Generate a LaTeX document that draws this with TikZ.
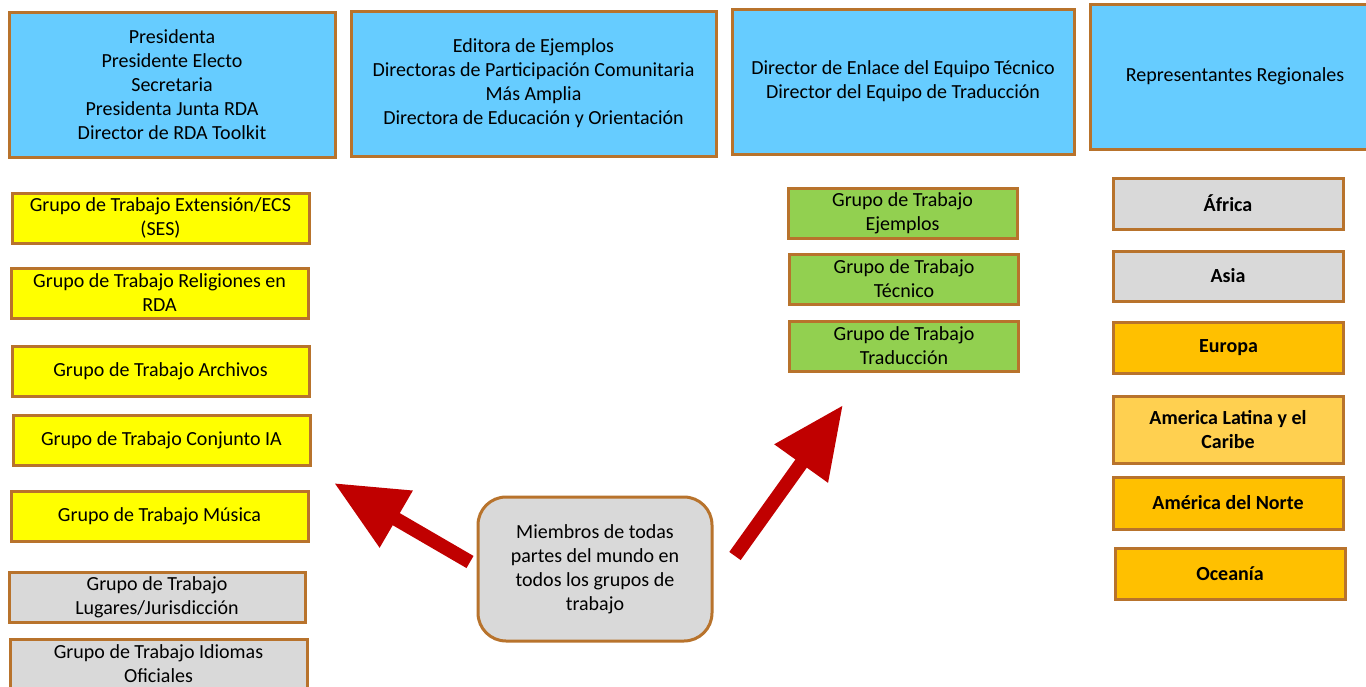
\documentclass[tikz,border=0pt]{standalone}
\usepackage{fontspec}
\setmainfont{Carlito}
\usetikzlibrary{arrows.meta}
\definecolor{cielo}{HTML}{66CCFF}
\definecolor{borde}{HTML}{B8732C}
\definecolor{amarillo}{HTML}{FFFF00}
\definecolor{verde}{HTML}{92D050}
\definecolor{gris}{HTML}{D9D9D9}
\definecolor{naranja}{HTML}{FFC000}
\definecolor{naranja_cl}{HTML}{FFD050}
\definecolor{rojo}{HTML}{C00000}
\tikzset{
	caja/.style = {rectangle, draw=borde, line width=3pt, align=center,
		inner sep=0pt, font=\fontsize{20}{24}\selectfont},
	caja_az/.style = {caja, fill=cielo, minimum height=145pt},% junta directiva
	caja_gt/.style = {caja, minimum width=297pt, minimum height=50pt},% grupo de trabajo
	caja_ve/.style = {caja, fill=verde, minimum width=229pt, minimum height=50pt},% grupo tecnico
	caja_re/.style = {caja, minimum width=230pt, minimum height=51pt,
		font=\fontsize{20}{24}\selectfont\bfseries},% representante regional
	caja_mi/.style = {caja, fill=gris, rounded corners=28pt,
		minimum width=234pt, minimum height=144pt},% miembros
	flecha/.style = {-{Triangle[length=72pt,width=62pt]}, line width=14pt, draw=rojo}
}

\begin{document}
\begin{tikzpicture}[x=1pt,y=-1pt]
	\clip (0,0) rectangle (1366,686);
	\fill[white] (0,0) rectangle (1366,686);
	% fila superior
	\node[caja_az, minimum width=326pt] (pres) at (172,84.5)
		{Presidenta\\Presidente Electo\\Secretaria\\Presidenta Junta RDA\\Director de RDA Toolkit};
	\node[caja_az, minimum width=365pt] (edit) at (533.5,83.5)
		{Editora de Ejemplos\\Directoras de Participación Comunitaria\\Más Amplia\\Directora de Educación y Orientación};
	\node[caja_az, minimum width=342pt] (enla) at (903,81.5)
		{Director de Enlace del Equipo Técnico\\Director del Equipo de Traducción};
	\node[caja_az, minimum width=290pt] (repr) at (1235,76.5)
		{Representantes Regionales};
	% grupos de trabajo
	\node[caja_gt, fill=amarillo] (ext) at (160.5,218) {Grupo de Trabajo Extensión/ECS\\(SES)};
	\node[caja_gt, fill=amarillo] (rel) at (159.5,293) {Grupo de Trabajo Religiones en\\RDA};
	\node[caja_gt, fill=amarillo] (arc) at (160.5,371) {Grupo de Trabajo Archivos};
	\node[caja_gt, fill=amarillo] (ia) at (161.5,440) {Grupo de Trabajo Conjunto IA};
	\node[caja_gt, fill=amarillo] (mus) at (159.5,516) {Grupo de Trabajo Música};
	\node[caja_gt, fill=gris, minimum width=296pt] (lug) at (157,597) {Grupo de Trabajo\\Lugares/Jurisdicción};
	\node[caja_gt, fill=gris] (idi) at (158.5,664) {Grupo de Trabajo Idiomas\\Oficiales};
	% equipos
	\node[caja_ve] (eje) at (902.5,213) {Grupo de Trabajo\\Ejemplos};
	\node[caja_ve] (tec) at (904,279) {Grupo de Trabajo\\Técnico};
	\node[caja_ve] (tra) at (904,346) {Grupo de Trabajo\\Traducción};
	% regiones
	\node[caja_re, fill=gris] (afr) at (1228,203.5) {África};
	\node[caja_re, fill=gris, minimum height=50pt] (asi) at (1228,276) {Asia};
	\node[caja_re, fill=naranja] (eur) at (1228.5,348) {Europa};
	\node[caja_re, fill=naranja_cl, minimum height=67pt] (lat) at (1228,429.5) {America Latina y el\\Caribe};
	\node[caja_re, fill=naranja, minimum height=52pt] (nor) at (1228,503) {América del Norte};
	\node[caja_re, fill=naranja] (oce) at (1230,573.5) {Oceanía};
	% miembros
	\node[caja_mi] (mie) at (595,569)
		{Miembros de todas\\partes del mundo en\\todos los grupos de\\trabajo};
	\coordinate (cola_i) at (470,562);
	\coordinate (punta_i) at (334,483);
	\coordinate (cola_d) at (735,556);
	\coordinate (punta_d) at (843,405);
	\draw[flecha] (cola_i) -- (punta_i);
	\draw[flecha] (cola_d) -- (punta_d);
\end{tikzpicture}
\end{document}
